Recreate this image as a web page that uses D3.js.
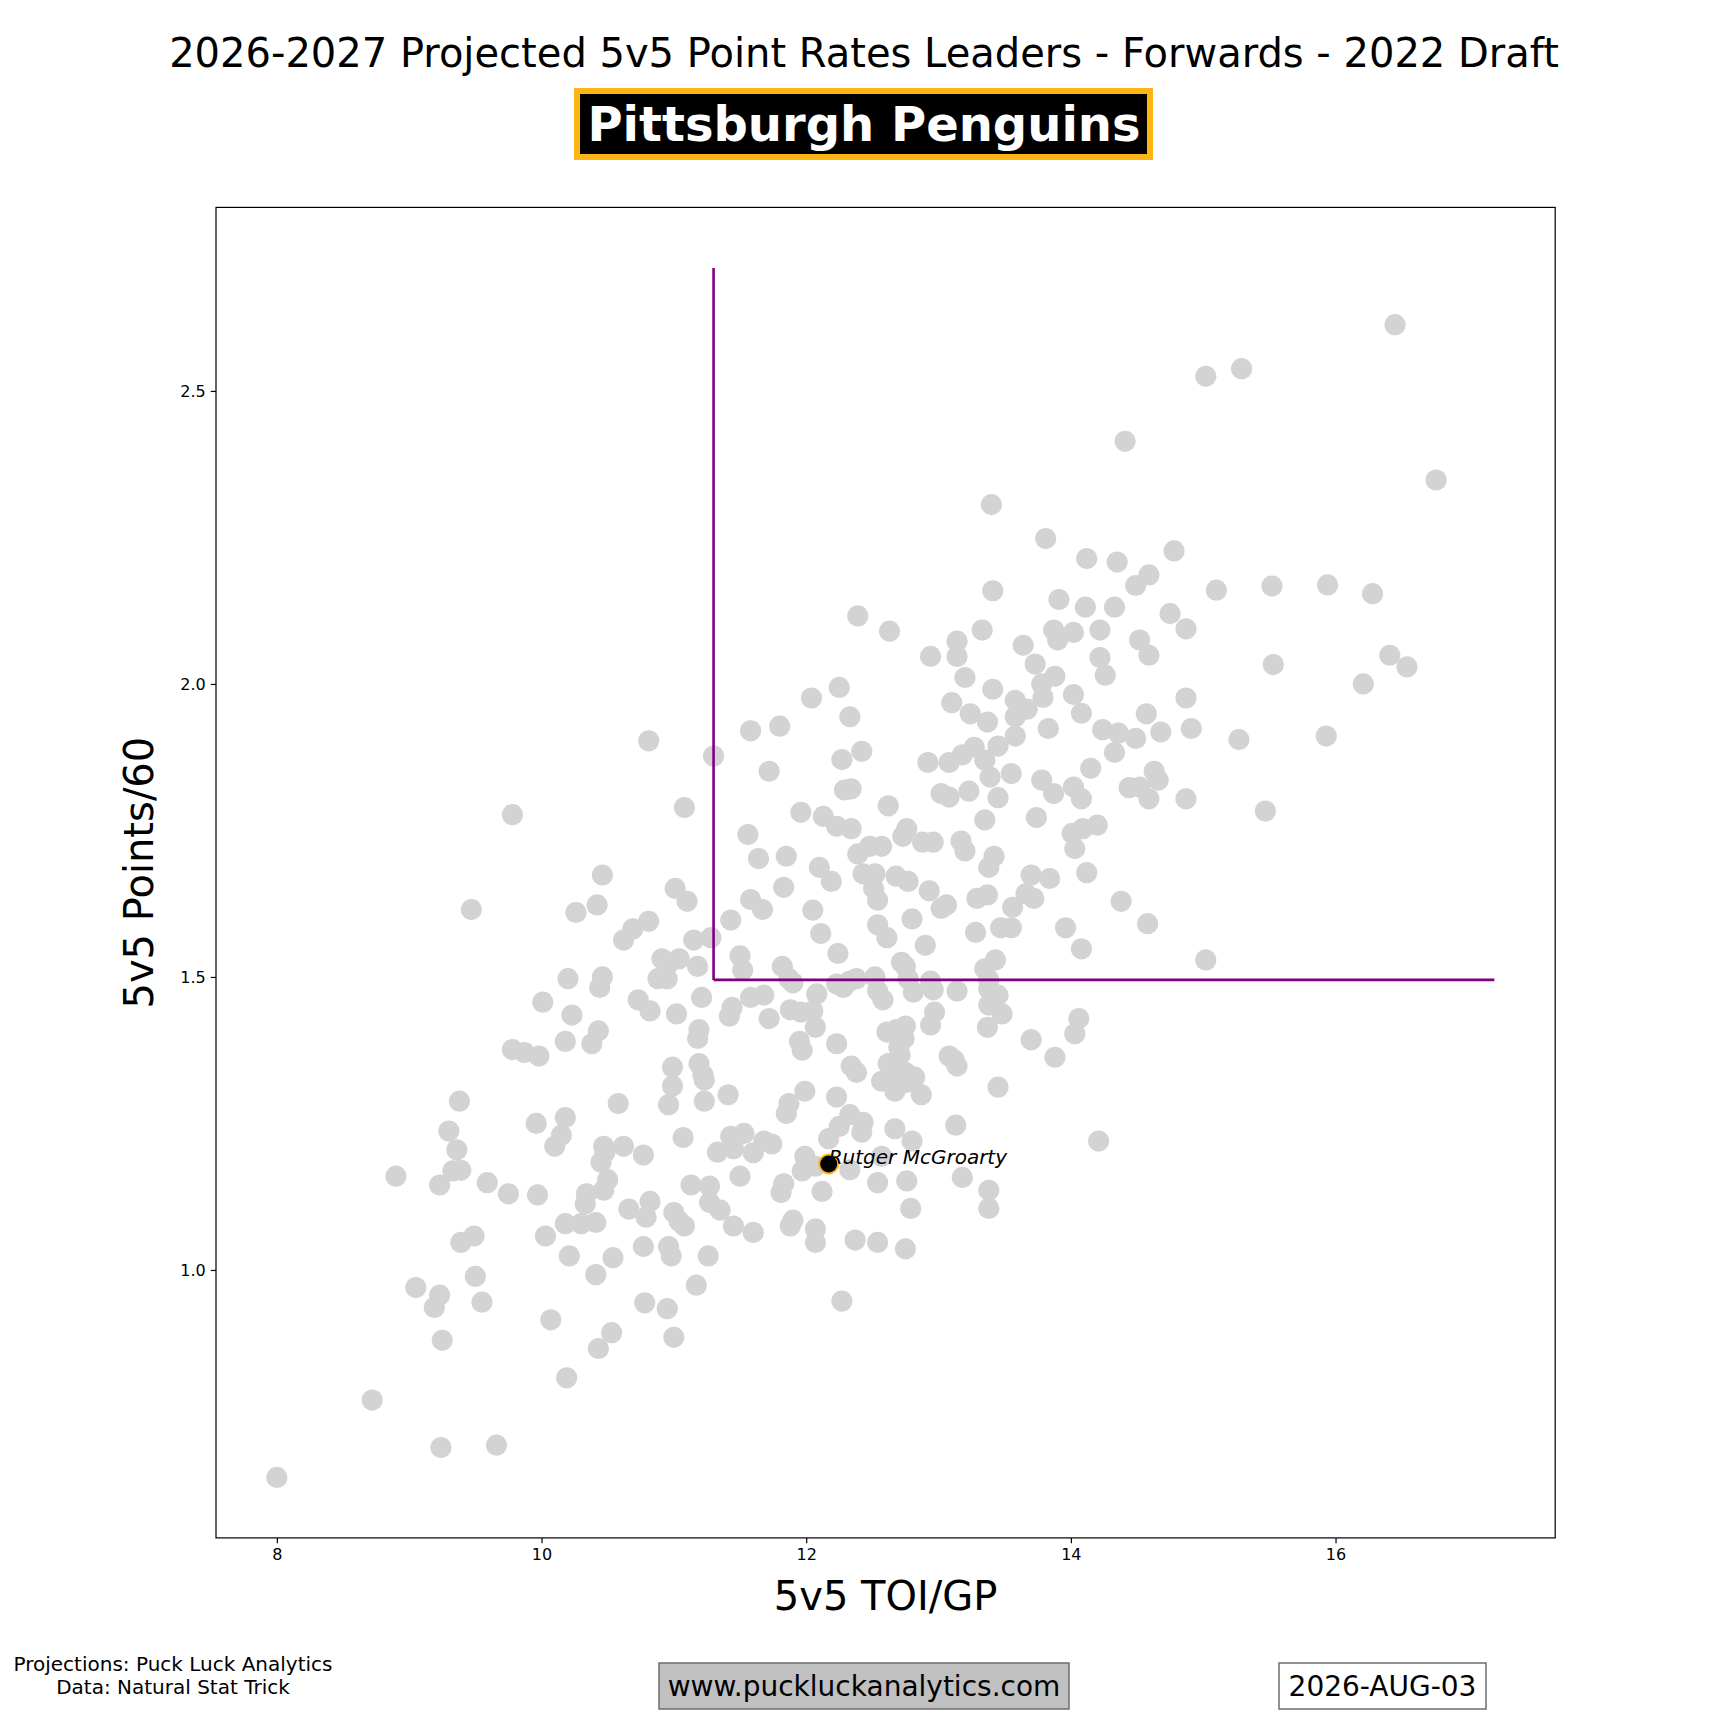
<!DOCTYPE html>
<html>
<head>
<meta charset="utf-8">
<script src="https://cdn.jsdelivr.net/npm/d3@7/dist/d3.min.js"></script>
<style>
  html, body { margin: 0; padding: 0; background: #fff; }
  svg { display: block; }
  text { font-family: "DejaVu Sans", sans-serif; }
</style>
</head>
<body>
<svg id="chart" width="1728" height="1728"></svg>
<script>
// ---- Data ----
const toi = [
16.45,15.29,15.02,14.41,16.76,13.40,13.81,14.78,14.12,14.35,14.59,15.10,15.52,15.94,16.28,13.41,13.91,14.49,14.11,14.33,
14.75,12.39,14.87,13.33,12.63,13.87,14.02,14.22,13.14,13.90,14.52,13.64,12.94,13.14,14.22,14.59,16.41,13.73,15.53,16.54,
13.88,13.20,14.26,16.21,12.25,13.78,13.41,12.04,14.02,13.10,13.58,13.79,14.87,13.67,12.33,13.24,13.37,13.58,14.57,14.08,
11.58,11.80,13.83,14.24,14.36,14.68,14.91,15.27,15.93,10.81,14.49,13.58,13.45,13.27,13.18,12.42,14.33,11.30,12.27,12.92,
13.08,13.35,13.55,11.72,14.15,14.63,13.39,13.78,14.66,14.02,12.34,12.29,13.45,13.23,13.02,13.08,13.87,14.08,14.44,14.52,
14.59,14.87,11.08,12.62,9.78,15.47,11.96,12.13,13.74,13.35,14.01,12.23,12.34,14.09,14.20,11.56,12.76,12.73,12.88,12.96,
13.17,13.20,12.48,12.57,14.03,12.39,11.64,11.85,13.42,13.38,12.43,12.52,12.10,14.12,13.70,13.84,10.46,12.68,12.77,12.19,
12.93,12.51,11.01,13.66,13.37,11.83,11.58,11.10,12.54,13.06,13.29,13.72,13.56,14.38,10.42,9.47,10.26,11.67,12.05,13.02,
12.80,11.43,10.81,10.69,13.96,13.55,12.54,13.47,14.58,13.28,12.11,12.61,10.62,11.28,11.15,12.90,14.08,12.24,11.50,13.43,
15.02,12.72,10.91,11.04,12.75,11.82,13.35,10.96,11.52,11.18,10.46,10.20,10.88,10.95,11.87,11.90,12.52,12.77,12.94,13.38,
12.23,12.33,12.38,10.44,13.38,12.28,12.96,13.14,12.54,12.81,12.08,11.68,13.45,11.21,11.58,12.58,10.73,10.01,13.38,11.44,
11.88,11.96,12.05,10.82,11.02,11.42,12.97,13.48,14.06,11.72,10.23,12.07,13.37,12.94,12.75,12.68,10.43,11.19,11.18,14.03,
12.61,13.70,11.95,12.23,10.38,10.18,12.74,12.70,11.97,9.78,9.87,9.98,13.88,13.08,12.71,13.12,13.14,12.62,12.34,11.19,
10.99,12.38,12.67,11.22,12.75,12.82,11.23,10.99,12.57,12.69,12.76,13.45,12.67,12.87,11.41,12.23,11.99,9.38,10.58,11.23,
10.96,11.87,11.85,12.33,9.30,10.18,9.96,12.43,12.25,13.13,10.15,12.67,11.07,11.43,11.53,12.17,12.42,11.68,11.74,12.80,
14.21,10.10,10.47,11.45,9.36,10.48,11.33,10.62,11.60,10.77,10.45,12.57,11.99,12.07,12.33,11.97,9.33,9.39,8.90,9.59,
9.23,13.18,12.54,11.50,10.50,11.13,11.27,11.83,12.76,11.81,12.12,9.75,9.97,10.34,13.38,10.47,10.33,10.82,11.27,10.66,
13.38,12.79,11.35,11.00,10.79,9.49,10.18,10.41,10.30,11.04,11.08,11.45,11.88,12.07,10.03,11.60,11.90,9.39,10.77,12.07,
10.96,12.37,12.54,12.75,10.98,10.21,11.26,10.54,9.50,10.41,9.05,9.23,11.17,9.55,10.78,12.27,9.19,10.95,10.07,10.53,
9.25,11.00,10.43,10.19,8.72,9.24,9.66,8.00
];
const points60 = [
2.613,2.538,2.525,2.414,2.348,2.306,2.248,2.227,2.214,2.208,2.186,2.160,2.167,2.169,2.154,2.159,2.144,2.168,2.131,2.131,
2.120,2.116,2.094,2.092,2.090,2.092,2.088,2.092,2.073,2.075,2.075,2.066,2.047,2.047,2.045,2.049,2.049,2.034,2.033,2.029,
2.013,2.011,2.015,2.000,1.994,2.000,1.991,1.976,1.982,1.968,1.972,1.977,1.976,1.957,1.944,1.949,1.935,1.944,1.949,1.950,
1.920,1.928,1.924,1.922,1.916,1.918,1.924,1.905,1.911,1.903,1.907,1.911,1.894,1.892,1.879,1.885,1.883,1.877,1.871,1.866,
1.866,1.870,1.847,1.851,1.856,1.851,1.841,1.836,1.836,1.824,1.821,1.819,1.806,1.817,1.813,1.807,1.813,1.804,1.823,1.824,
1.804,1.804,1.789,1.792,1.777,1.783,1.781,1.774,1.772,1.768,1.745,1.757,1.753,1.753,1.759,1.743,1.753,1.740,1.730,1.730,
1.732,1.715,1.723,1.723,1.719,1.710,1.702,1.706,1.706,1.687,1.676,1.676,1.687,1.678,1.674,1.668,1.674,1.672,1.663,1.663,
1.647,1.651,1.651,1.642,1.640,1.653,1.632,1.629,1.631,1.623,1.634,1.634,1.619,1.629,1.623,1.615,1.610,1.615,1.614,1.617,
1.599,1.597,1.595,1.582,1.584,1.584,1.589,1.584,1.591,1.576,1.574,1.567,1.563,1.567,1.563,1.554,1.548,1.540,1.536,1.529,
1.529,1.525,1.531,1.531,1.518,1.518,1.514,1.523,1.512,1.518,1.500,1.497,1.497,1.497,1.497,1.490,1.500,1.497,1.493,1.495,
1.488,1.493,1.497,1.482,1.480,1.482,1.478,1.476,1.476,1.474,1.471,1.469,1.469,1.465,1.465,1.461,1.461,1.457,1.452,1.448,
1.444,1.440,1.442,1.442,1.437,1.433,1.440,1.437,1.429,1.429,1.435,1.414,1.414,1.418,1.416,1.410,1.408,1.410,1.395,1.403,
1.406,1.393,1.390,1.386,1.386,1.390,1.395,1.380,1.375,1.376,1.371,1.365,1.363,1.365,1.367,1.358,1.348,1.352,1.348,1.352,
1.346,1.337,1.341,1.333,1.337,1.329,1.324,1.314,1.322,1.322,1.320,1.312,1.305,1.299,1.299,1.295,1.305,1.288,1.284,1.288,
1.282,1.284,1.267,1.265,1.237,1.260,1.250,1.252,1.245,1.247,1.230,1.241,1.226,1.228,1.233,1.224,1.235,1.220,1.215,1.220,
1.220,1.211,1.211,1.207,1.205,1.201,1.201,1.211,1.200,1.196,1.184,1.194,1.194,1.177,1.171,1.169,1.169,1.170,1.160,1.149,
1.145,1.158,1.149,1.160,1.154,1.145,1.143,1.147,1.152,1.132,1.134,1.130,1.128,1.130,1.136,1.136,1.113,1.117,1.115,1.104,
1.105,1.105,1.102,1.098,1.090,1.058,1.079,1.081,1.079,1.083,1.075,1.075,1.075,1.070,1.058,1.064,1.085,1.047,1.040,1.047,
1.040,1.051,1.047,1.036,1.024,1.024,1.024,1.021,0.989,0.992,0.970,0.957,0.974,0.945,0.944,0.947,0.936,0.934,0.915,0.893,
0.880,0.885,0.866,0.816,0.778,0.697,0.701,0.646
];
const highlightName = "Rutger McGroarty";
const highlightToi = [12.17];
const highlightPts = [1.181];

// Threshold lines (purple)
const thresholdToi = 11.3;
const thresholdPts = 1.495;
const lineToiEnd = 17.2;
const linePtsEnd = 2.71;

const xTicks = [8, 10, 12, 14, 16];
const yTicks = [1.0, 1.5, 2.0, 2.5];

const titleText = "2026-2027 Projected 5v5 Point Rates Leaders - Forwards - 2022 Draft";
const teamText = "Pittsburgh Penguins";
const xLabel = "5v5 TOI/GP";
const yLabel = "5v5 Points/60";
const creditLines = ["Projections: Puck Luck Analytics", "Data: Natural Stat Trick"];
const siteText = "www.puckluckanalytics.com";
const dateText = "2026-AUG-03";

(function draw() {
  const W = 1728, H = 1728;
  const axL = 216, axR = 1555.2, axT = 207.4, axB = 1537.9;
  const svg = d3.select("#chart");

  // Domains like matplotlib auto-scaling with 5% margins
  const xMin = Math.min(d3.min(toi), thresholdToi), xMax = Math.max(d3.max(toi), lineToiEnd);
  const yMin = Math.min(d3.min(points60), thresholdPts), yMax = Math.max(d3.max(points60), linePtsEnd);
  const xPad = (xMax - xMin) * 0.05, yPad = (yMax - yMin) * 0.05;
  const x = d3.scaleLinear().domain([xMin - xPad, xMax + xPad]).range([axL, axR]);
  const y = d3.scaleLinear().domain([yMin - yPad, yMax + yPad]).range([axB, axT]);

  // Points
  const data = toi.map((t, i) => ({ t, p: points60[i] }));
  svg.append("g").selectAll("circle").data(data).join("circle")
    .attr("cx", d => x(d.t)).attr("cy", d => y(d.p)).attr("r", 10.6)
    .attr("fill", "#d3d3d3");

  // Threshold lines
  const purple = "#800080";
  svg.append("line")
    .attr("x1", x(thresholdToi)).attr("x2", x(thresholdToi))
    .attr("y1", y(thresholdPts)).attr("y2", y(linePtsEnd))
    .attr("stroke", purple).attr("stroke-width", 2.6);
  svg.append("line")
    .attr("x1", x(thresholdToi)).attr("x2", x(lineToiEnd))
    .attr("y1", y(thresholdPts)).attr("y2", y(thresholdPts))
    .attr("stroke", purple).attr("stroke-width", 2.6);

  // Highlight player
  svg.append("circle")
    .attr("cx", x(highlightToi[0])).attr("cy", y(highlightPts[0])).attr("r", 9.5)
    .attr("fill", "#000").attr("stroke", "#FCB514").attr("stroke-width", 2);
  svg.append("text")
    .attr("x", x(highlightToi[0])).attr("y", y(highlightPts[0]))
    .attr("font-size", 20).attr("font-style", "italic").attr("fill", "#000")
    .text(highlightName);

  // Axes
  const xAxis = d3.axisBottom(x).tickValues(xTicks).tickFormat(d3.format("d")).tickSize(5.25).tickPadding(5);
  const yAxis = d3.axisLeft(y).tickValues(yTicks).tickFormat(d3.format(".1f")).tickSize(5.25).tickPadding(5);
  const gx = svg.append("g").attr("transform", `translate(0,${axB})`).call(xAxis);
  const gy = svg.append("g").attr("transform", `translate(${axL},0)`).call(yAxis);
  [gx, gy].forEach(g => {
    g.select(".domain").remove();
    g.selectAll(".tick line").attr("stroke", "#000").attr("stroke-width", 1.2);
    g.selectAll(".tick text").attr("font-size", 16).attr("fill", "#000")
      .attr("font-family", "DejaVu Sans, sans-serif");
  });

  // Frame
  svg.append("rect")
    .attr("x", axL).attr("y", axT).attr("width", axR - axL).attr("height", axB - axT)
    .attr("fill", "none").attr("stroke", "#000").attr("stroke-width", 1.2);

  // Axis labels
  svg.append("text").attr("x", (axL + axR) / 2).attr("y", 1610)
    .attr("text-anchor", "middle").attr("font-size", 40).text(xLabel);
  svg.append("text")
    .attr("transform", `translate(153,${(axT + axB) / 2}) rotate(-90)`)
    .attr("text-anchor", "middle").attr("font-size", 40).text(yLabel);

  // Title
  svg.append("text").attr("x", W / 2).attr("y", 67)
    .attr("text-anchor", "middle").attr("font-size", 40).text(titleText);

  // Team box
  const team = svg.append("g");
  team.append("rect")
    .attr("x", 577).attr("y", 91).attr("width", 1150 - 577).attr("height", 157 - 91)
    .attr("fill", "#000").attr("stroke", "#FCB514").attr("stroke-width", 6);
  team.append("text").attr("x", W / 2).attr("y", 141)
    .attr("text-anchor", "middle").attr("font-size", 48).attr("font-weight", "bold")
    .attr("fill", "#fff").text(teamText);

  // Credits
  const cred = svg.append("text").attr("font-size", 20).attr("text-anchor", "middle");
  creditLines.forEach((l, i) => cred.append("tspan").attr("x", 173).attr("y", 1671 + i * 23).text(l));

  // Website box
  svg.append("rect").attr("x", 659).attr("y", 1663).attr("width", 410).attr("height", 46)
    .attr("fill", "#c0c0c0").attr("stroke", "#6e6e6e").attr("stroke-width", 1.5);
  svg.append("text").attr("x", 864).attr("y", 1696).attr("text-anchor", "middle")
    .attr("font-size", 28).text(siteText);

  // Date box
  svg.append("rect").attr("x", 1279).attr("y", 1663).attr("width", 207).attr("height", 46)
    .attr("fill", "#fff").attr("stroke", "#6e6e6e").attr("stroke-width", 1.5);
  svg.append("text").attr("x", 1382.5).attr("y", 1696).attr("text-anchor", "middle")
    .attr("font-size", 28).text(dateText);
})();
</script>
</body>
</html>
